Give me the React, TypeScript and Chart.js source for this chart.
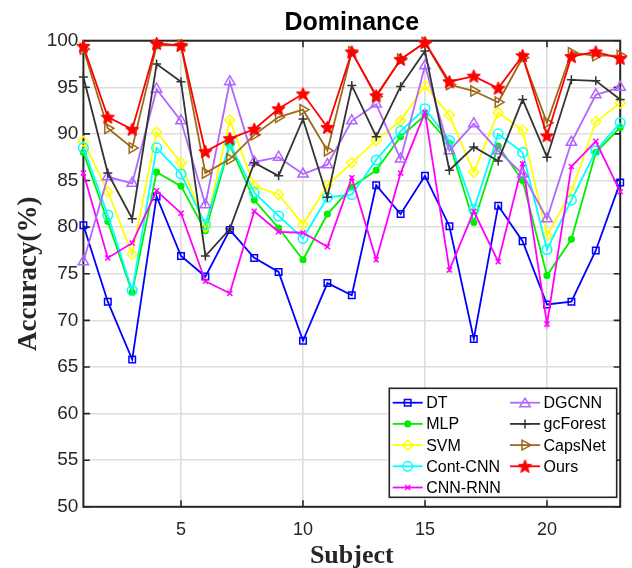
import React, { useEffect, useRef } from 'react';
import { Chart, registerables } from 'chart.js';

Chart.register(...registerables);

// ---------- data ----------
const subjects = [1, 2, 3, 4, 5, 6, 7, 8, 9, 10, 11, 12, 13, 14, 15, 16, 17, 18, 19, 20, 21, 22, 23];
const xTickValues = [5, 10, 15, 20];
const yTickStep = 5;

const DT = [80.2, 72.0, 65.8, 83.3, 76.9, 74.7, 79.7, 76.7, 75.2, 67.8, 74.0, 72.7, 84.5, 81.4, 85.5, 80.1, 68.0, 82.3, 78.5, 71.7, 72.0, 77.5, 84.8];
const MLP = [88.0, 80.6, 73.0, 85.9, 84.4, 79.6, 88.8, 82.9, 79.9, 76.5, 81.4, 84.3, 86.1, 89.7, 92.0, 89.0, 80.5, 88.7, 85.0, 74.8, 78.7, 88.0, 90.7];
const SVM = [89.2, 83.8, 77.1, 90.2, 86.9, 80.0, 91.5, 84.4, 83.5, 80.3, 84.5, 86.9, 89.3, 91.4, 95.2, 92.0, 85.9, 92.3, 90.4, 79.1, 83.8, 91.3, 93.3];
const ContCNN = [88.5, 81.3, 73.2, 88.5, 85.7, 80.3, 89.0, 83.7, 81.2, 78.8, 83.2, 83.5, 87.2, 90.3, 92.7, 89.3, 81.9, 90.0, 88.0, 77.6, 82.9, 88.2, 91.2];
const CNNRNN = [85.8, 76.7, 78.3, 83.9, 81.5, 74.2, 72.9, 81.7, 79.5, 79.4, 77.9, 85.3, 76.5, 85.8, 92.3, 75.4, 81.7, 76.3, 86.8, 69.6, 86.5, 89.2, 83.8];
const DGCNN = [76.3, 85.4, 84.7, 94.8, 91.4, 82.4, 95.6, 87.0, 87.5, 85.7, 86.7, 91.4, 93.2, 87.3, 97.3, 88.2, 91.1, 88.2, 85.7, 80.9, 89.1, 94.2, 95.0];
const gcForest = [96.1, 85.8, 80.9, 97.5, 95.6, 76.9, 79.8, 86.9, 85.5, 91.6, 83.2, 95.2, 89.7, 95.1, 98.9, 86.1, 88.6, 87.1, 93.7, 87.5, 95.8, 95.7, 93.7];
const CapsNet = [99.1, 90.6, 88.5, 99.5, 99.5, 85.8, 87.3, 89.9, 91.8, 92.6, 88.2, 98.8, 94.0, 98.0, 99.8, 95.3, 94.6, 93.4, 98.2, 91.2, 98.7, 98.4, 98.4];
const Ours = [99.4, 91.8, 90.5, 99.7, 99.5, 88.1, 89.5, 90.5, 92.7, 94.3, 90.7, 98.8, 94.1, 98.0, 99.8, 95.6, 96.2, 94.9, 98.4, 89.8, 98.3, 98.8, 98.1];

const TITLE = 'Dominance';
const X_TITLE = 'Subject';
const Y_TITLE = 'Accuracy(%)';

// ---------- styles ----------
const SANS = '"Liberation Sans", Arial, Helvetica, sans-serif';
const SERIF = '"Liberation Serif", "Times New Roman", serif';
const AXIS_COLOR = '#262626';

function makeStar(size: number, color: string) {
  const c = document.createElement('canvas');
  c.width = size;
  c.height = size;
  const g = c.getContext('2d')!;
  const cx = size / 2, cy = size / 2 + 0.5, R = size / 2 - 0.5, r = R * 0.45;
  g.beginPath();
  for (let i = 0; i < 10; i++) {
    const a = -Math.PI / 2 + (i * Math.PI) / 5;
    const rr = i % 2 === 0 ? R : r;
    g.lineTo(cx + rr * Math.cos(a), cy + rr * Math.sin(a));
  }
  g.closePath();
  g.fillStyle = color;
  g.fill();
  g.strokeStyle = color;
  g.lineWidth = 1;
  g.stroke();
  return c;
}

type Def = { label: string; data: number[]; color: string; style: string; radius: number; filled?: boolean; rotation?: number };

const defs: Def[] = [
  { label: 'DT', data: DT, color: '#0000ff', style: 'rect', radius: 4.6 },
  { label: 'MLP', data: MLP, color: '#00ee00', style: 'circle', radius: 2.8, filled: true },
  { label: 'SVM', data: SVM, color: '#ffff00', style: 'rectRot', radius: 5 },
  { label: 'Cont-CNN', data: ContCNN, color: '#00ffff', style: 'circle', radius: 4.8 },
  { label: 'CNN-RNN', data: CNNRNN, color: '#ff00ff', style: 'crossRot', radius: 3.6 },
  { label: 'DGCNN', data: DGCNN, color: '#b266ff', style: 'triangle', radius: 6 },
  { label: 'gcForest', data: gcForest, color: '#333333', style: 'cross', radius: 4.5 },
  { label: 'CapsNet', data: CapsNet, color: '#9e6818', style: 'triangle', radius: 6, rotation: 90 },
  { label: 'Ours', data: Ours, color: '#ff0000', style: 'star', radius: 7 },
];

function drawMarker(ctx: CanvasRenderingContext2D, d: Def, x: number, y: number, star: HTMLCanvasElement) {
  const r = d.radius;
  ctx.save();
  ctx.strokeStyle = d.color;
  ctx.fillStyle = d.color;
  ctx.lineWidth = 1.5;
  ctx.beginPath();
  switch (d.style) {
    case 'rect': {
      const s = r * Math.SQRT1_2;
      ctx.rect(x - s, y - s, 2 * s, 2 * s);
      ctx.stroke();
      break;
    }
    case 'circle':
      ctx.arc(x, y, r, 0, Math.PI * 2);
      if (d.filled) ctx.fill();
      ctx.stroke();
      break;
    case 'rectRot':
      ctx.moveTo(x, y - r);
      ctx.lineTo(x + r, y);
      ctx.lineTo(x, y + r);
      ctx.lineTo(x - r, y);
      ctx.closePath();
      ctx.stroke();
      break;
    case 'crossRot': {
      const s = r * Math.SQRT1_2;
      ctx.moveTo(x - s, y - s);
      ctx.lineTo(x + s, y + s);
      ctx.moveTo(x + s, y - s);
      ctx.lineTo(x - s, y + s);
      ctx.stroke();
      break;
    }
    case 'cross':
      ctx.moveTo(x - r, y);
      ctx.lineTo(x + r, y);
      ctx.moveTo(x, y - r);
      ctx.lineTo(x, y + r);
      ctx.stroke();
      break;
    case 'triangle': {
      const rot = ((d.rotation || 0) * Math.PI) / 180;
      for (let i = 0; i < 3; i++) {
        const a = -Math.PI / 2 + rot + (i * 2 * Math.PI) / 3;
        const px = x + r * Math.cos(a);
        const py = y + r * 0.95 * Math.sin(a) + (d.rotation ? 0 : r * 0.2);
        if (i === 0) ctx.moveTo(px, py);
        else ctx.lineTo(px, py);
      }
      ctx.closePath();
      ctx.stroke();
      break;
    }
    case 'star':
      ctx.drawImage(star, x - star.width / 2, y - star.height / 2);
      break;
  }
  ctx.restore();
}

export default function App() {
  const ref = useRef<HTMLCanvasElement | null>(null);

  useEffect(() => {
    const canvas = ref.current;
    if (!canvas) return;
    const star = makeStar(15, '#ff0000');

    const decor = {
      id: 'decor',
      beforeDatasetsDraw(chart: any) {
        const { ctx, chartArea: a, scales } = chart;
        ctx.save();
        ctx.strokeStyle = AXIS_COLOR;
        ctx.lineWidth = 1.6;
        const tl = 6.5;
        ctx.beginPath();
        for (const v of xTickValues) {
          const px = scales.x.getPixelForValue(v);
          ctx.moveTo(px, a.bottom);
          ctx.lineTo(px, a.bottom - tl);
          ctx.moveTo(px, a.top);
          ctx.lineTo(px, a.top + tl);
        }
        for (let v = 50; v <= 100; v += yTickStep) {
          const py = scales.y.getPixelForValue(v);
          ctx.moveTo(a.left, py);
          ctx.lineTo(a.left + tl, py);
          ctx.moveTo(a.right, py);
          ctx.lineTo(a.right - tl, py);
        }
        ctx.stroke();
        ctx.lineWidth = 2;
        ctx.strokeRect(a.left, a.top, a.right - a.left, a.bottom - a.top);
        ctx.restore();
      },
      afterDraw(chart: any) {
        const { ctx, chartArea: a } = chart;
        ctx.save();
        // title
        ctx.fillStyle = '#000';
        ctx.font = `bold 25px ${SANS}`;
        ctx.textAlign = 'center';
        ctx.textBaseline = 'alphabetic';
        ctx.fillText(TITLE, (a.left + a.right) / 2, 30);
        // x title
        ctx.fillStyle = AXIS_COLOR;
        ctx.font = `bold 26px ${SERIF}`;
        ctx.fillText(X_TITLE, (a.left + a.right) / 2, 563);
        // y title
        ctx.save();
        ctx.translate(36, (a.top + a.bottom) / 2);
        ctx.rotate(-Math.PI / 2);
        ctx.font = `bold 27px ${SERIF}`;
        ctx.textAlign = 'center';
        ctx.fillText(Y_TITLE, 0, 0);
        ctx.restore();

        // legend
        const bx = 389.3, by = 388.3, bw = 616.7 - 389.3, bh = 497.3 - 388.3;
        ctx.fillStyle = '#fff';
        ctx.fillRect(bx, by, bw, bh);
        ctx.strokeStyle = AXIS_COLOR;
        ctx.lineWidth = 1.6;
        ctx.strokeRect(bx, by, bw, bh);
        ctx.font = `16px ${SANS}`;
        ctx.textAlign = 'left';
        ctx.textBaseline = 'middle';
        defs.forEach((d, i) => {
          const col = i < 5 ? 0 : 1;
          const row = i < 5 ? i : i - 5;
          const y = 402.7 + row * 21.2;
          const x0 = col === 0 ? 392.7 : 510;
          const x1 = x0 + 30;
          ctx.strokeStyle = d.color;
          ctx.lineWidth = 1.8;
          ctx.beginPath();
          ctx.moveTo(x0, y);
          ctx.lineTo(x1, y);
          ctx.stroke();
          drawMarker(ctx, d, (x0 + x1) / 2, y, star);
          ctx.fillStyle = '#000';
          ctx.fillText(d.label, x1 + 3.5, y + 1);
        });
        ctx.restore();
      },
    };

    const datasets = defs.map((d, i) => ({
      label: d.label,
      data: subjects.map((s, k) => ({ x: s, y: d.data[k] })),
      borderColor: d.color,
      backgroundColor: d.color,
      borderWidth: 1.8,
      pointStyle: d.style === 'star' ? star : d.style,
      pointRadius: d.radius,
      pointRotation: d.rotation || 0,
      pointBorderWidth: 1.5,
      pointBorderColor: d.color,
      pointBackgroundColor: d.filled || d.style === 'star' ? d.color : 'rgba(0,0,0,0)',
      tension: 0,
      fill: false,
      clip: false as any,
      order: defs.length - i,
    }));

    const chart = new Chart(canvas, {
      type: 'line',
      data: { datasets },
      options: {
        animation: false,
        responsive: false,
        devicePixelRatio: 1,
        events: [],
        layout: { padding: { top: 40.7, right: 11.8, bottom: 0, left: 0 } },
        plugins: { legend: { display: false }, title: { display: false }, tooltip: { enabled: false } },
        scales: {
          x: {
            type: 'linear',
            min: 1,
            max: 23,
            afterBuildTicks: (ax: any) => {
              ax.ticks = xTickValues.map((v) => ({ value: v }));
            },
            afterFit: (ax: any) => {
              ax.height = 568 - 506.8;
            },
            grid: { color: '#dedede', lineWidth: 1.6, drawTicks: false },
            border: { display: false },
            ticks: { font: { family: SANS, size: 18 }, color: AXIS_COLOR, padding: 12, maxRotation: 0, autoSkip: false },
          },
          y: {
            type: 'linear',
            min: 50,
            max: 100,
            afterFit: (ax: any) => {
              ax.width = 83.4;
            },
            grid: { color: '#dedede', lineWidth: 1.6, drawTicks: false },
            border: { display: false },
            ticks: { stepSize: yTickStep, font: { family: SANS, size: 19 }, color: AXIS_COLOR, padding: 5, autoSkip: false },
          },
        },
      },
      plugins: [decor],
    });

    return () => chart.destroy();
  }, []);

  return (
    <div style={{ position: 'absolute', left: 0, top: 0, width: 632, height: 568, background: '#fff' }}>
      <canvas ref={ref} width={632} height={568} style={{ display: 'block' }} />
    </div>
  );
}
